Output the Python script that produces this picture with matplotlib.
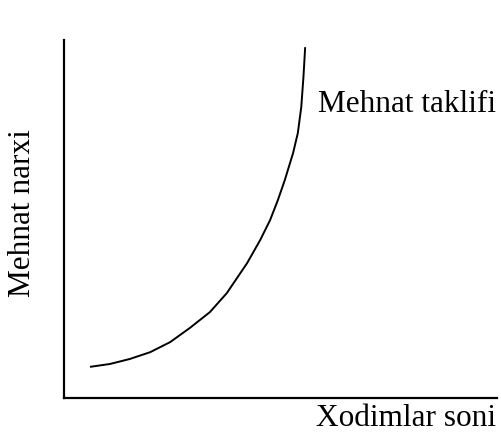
import matplotlib.pyplot as plt

# egri chiziq nuqtalari (rasmdan o'qilgan)
ish_soni = [6.0, 10.6, 15.2, 19.9, 24.5, 29.1, 33.7, 37.6, 42.3, 45.3,
            47.6, 49.4, 51.0, 52.9, 54.0, 54.8, 55.3, 55.7]
ish_haqi = [8.7, 9.5, 10.9, 12.8, 15.6, 19.6, 24.0, 29.3, 37.7, 44.1,
            49.7, 55.3, 60.9, 68.4, 74.0, 81.3, 89.7, 98.0]

egri_nomi = "Mehnat taklifi"
x_nomi = "Xodimlar soni"
y_nomi = "Mehnat narxi"

plt.rcParams['font.family'] = ['Liberation Serif', 'DejaVu Serif']

fig = plt.figure(figsize=(5.01, 4.32), dpi=100)
ax = fig.add_axes([64/501, 1-398/432, 433/501, 358/432])
ax.set_xlim(0, 100)
ax.set_ylim(0, 100)

ax.plot(ish_soni, ish_haqi, color='black', lw=1.4, solid_capstyle='butt',
        solid_joinstyle='round')

ax.spines['top'].set_visible(False)
ax.spines['right'].set_visible(False)
ax.spines['left'].set_linewidth(1.6)
ax.spines['bottom'].set_linewidth(1.6)
ax.set_xticks([])
ax.set_yticks([])

fig.text(318/501, 1-112/432, egri_nomi, fontsize=22.5, va='baseline', ha='left')
fig.text(496/501, 1-426/432, x_nomi, fontsize=22.5, va='baseline', ha='right')
fig.text(23/501, 1-213/432, y_nomi, fontsize=22.5, va='center', ha='center', rotation=90)

fig.savefig('out.png', dpi=100)
